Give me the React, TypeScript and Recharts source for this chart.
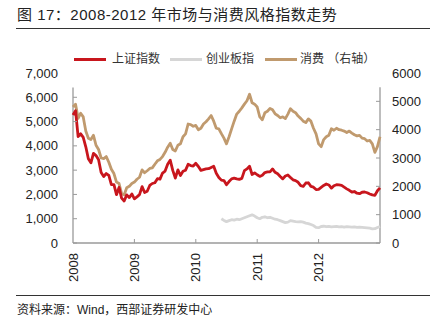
import { Line, LineChart, ReferenceLine, XAxis, YAxis } from 'recharts'

const START_YEAR = 2008
const STEPS_PER_YEAR = 24

const yearTicks = [2008, 2009, 2010, 2011, 2012]
const leftTicks = [0, 1000, 2000, 3000, 4000, 5000, 6000, 7000]
const rightTicks = [0, 1000, 2000, 3000, 4000, 5000, 6000]

// 上证指数, half-monthly closes 2008-01 .. 2012-12
const sseValues = [
  5270, 5450, 4380, 4500, 4350, 3960, 3470, 3300, 3690, 3600, 3430, 2900,
  2740, 2860, 2780, 2400, 2400, 1990, 2290, 1850, 1730, 1980, 1870, 2020,
  1820, 1900, 1990, 2320, 2080, 2130, 2370, 2450, 2480, 2650, 2630, 2880,
  2960, 3240, 3410, 2990, 2670, 3010, 2780, 2950, 3000, 3240, 3190, 3170,
  3280, 3150, 2990, 3020, 3050, 3060, 3110, 3160, 2870, 2700, 2590, 2570,
  2400, 2530, 2640, 2670, 2640, 2620, 2660, 2980, 3050, 3160, 2820, 2890,
  2810, 2740, 2790, 2900, 2930, 2930, 3050, 2910, 2850, 2740, 2640, 2760,
  2800, 2700, 2600, 2570, 2500, 2360, 2330, 2470, 2480, 2330, 2300, 2200,
  2210, 2290, 2370, 2430, 2390, 2260, 2360, 2400, 2390, 2370, 2300, 2230,
  2170, 2100, 2120, 2050, 2030, 2090, 2100, 2070, 2020, 1980, 1960, 2150,
  2270,
]

// 消费 (right axis)
const consumerValues = [
  4800, 4900, 4400, 4580, 4450, 3950, 3700, 3650, 3800, 3450, 3300, 3000,
  2980, 3050, 2850, 2600, 2450, 2150, 2100, 1750, 1700, 1950, 2000, 2100,
  2150, 2250, 2320, 2580, 2480, 2550, 2630, 2650, 2780, 2900, 2950, 3050,
  3200, 3380, 3520, 3300, 3250, 3450, 3500, 3750, 3850, 4200, 4180, 4120,
  4150, 4000, 4050, 4200, 4280, 4380, 4500, 4300, 4050, 4030, 3860, 3700,
  3500, 3750, 4030, 4300, 4550, 4650, 4770, 4900, 5020, 5250, 4950, 4900,
  4800, 4450, 4350, 4600, 4650, 4750, 4700, 4560, 4500, 4420, 4450, 4390,
  4550, 4740, 4650, 4600, 4480, 4400, 4300, 4250, 4380, 4300, 4050, 3850,
  3500, 3400, 3650, 3750, 3800, 4030, 3980, 4050, 4000, 3980, 3950, 3900,
  3950, 3880, 3820, 3780, 3800, 3700, 3680, 3600, 3620, 3500, 3200, 3400,
  3750,
]

// 创业板指, starts June 2010
const chinextStartStep = 58
const chinextValues = [
  1000, 930, 880, 920, 960, 940, 980, 960, 1000, 1040, 1080, 1120, 1160, 1110,
  1040, 1000, 1060, 1080, 1040, 1060, 1020, 980, 960, 920, 880, 840, 860, 920,
  900, 880, 870, 880, 860, 820, 800, 760, 720, 640, 630, 680, 690, 670, 680,
  660, 670, 680, 660, 670, 650, 670, 660, 650, 660, 640, 650, 640, 630, 620,
  610, 580, 590, 640, 680,
]

const data = sseValues.map((sse, i) => ({
  t: START_YEAR + i / STEPS_PER_YEAR,
  sse,
  consumer: consumerValues[i],
  chinext: i >= chinextStartStep ? chinextValues[i - chinextStartStep] : null,
}))

const RED = '#C8161D'
const GRAY = '#D6D6D6'
const TAN = '#C09A6E'
const AXIS = '#9a9a9a'
const FONT = '"Liberation Sans", Arial, "Noto Sans CJK SC", sans-serif'

const legendItems = [
  { label: '上证指数', color: RED, lineLeft: 74, textLeft: 112 },
  { label: '创业板指', color: GRAY, lineLeft: 170, textLeft: 206 },
  { label: '消费 （右轴）', color: TAN, lineLeft: 265, textLeft: 300 },
]

function LeftTick({ x, y, payload }: any) {
  return (
    <g>
      {payload.value < 7000 ? <line x1={x} x2={x + 4} y1={y} y2={y} stroke={AXIS} /> : null}
      <text x={x - 15} y={y} dy="0.35em" textAnchor="end" fontSize={13} fill="#222" fontFamily={FONT}>
        {payload.value.toLocaleString('en-US')}
      </text>
    </g>
  )
}

function RightTick({ x, y, payload }: any) {
  return (
    <g>
      {payload.value < 6000 ? <line x1={x - 4} x2={x} y1={y} y2={y} stroke={AXIS} /> : null}
      <text x={x + 12} y={y} dy="0.35em" textAnchor="start" fontSize={13} fill="#222" fontFamily={FONT}>
        {payload.value}
      </text>
    </g>
  )
}

function YearTick({ x, y, payload }: any) {
  const ty = y + 10
  return (
    <g>
      {payload.value > START_YEAR ? <line x1={x} x2={x} y1={y} y2={y - 4} stroke={AXIS} /> : null}
      <text
        x={x}
        y={ty}
        dy="0.35em"
        textAnchor="end"
        fontSize={13}
        fill="#222"
        fontFamily={FONT}
        transform={`rotate(-90, ${x}, ${ty})`}
      >
        {payload.value}
      </text>
    </g>
  )
}

export default function App() {
  return (
    <div style={{ position: 'relative', width: 438, height: 331, background: '#fff', fontFamily: FONT, color: '#222' }}>
      <style>{'body{margin:0}'}</style>
      <div
        style={{
          position: 'absolute',
          left: 17,
          top: 5,
          fontSize: 15,
          lineHeight: '20px',
          letterSpacing: 0.5,
          whiteSpace: 'nowrap',
        }}
      >
        图 17：2008-2012 年市场与消费风格指数走势
      </div>
      <div style={{ position: 'absolute', left: 16, top: 28, width: 414, height: 1, background: '#333' }} />

      {legendItems.map((item) => (
        <div key={item.label}>
          <div
            style={{
              position: 'absolute',
              left: item.lineLeft,
              top: 58,
              width: 32,
              height: 3,
              background: item.color,
            }}
          />
          <div
            style={{
              position: 'absolute',
              left: item.textLeft,
              top: 51,
              fontSize: 12,
              lineHeight: '16px',
              whiteSpace: 'nowrap',
              color: '#333',
            }}
          >
            {item.label}
          </div>
        </div>
      ))}

      <div style={{ position: 'absolute', left: 0, top: 0 }}>
        <LineChart width={438} height={300} data={data} margin={{ top: 73, right: 0, bottom: 12, left: 0 }}>
          <XAxis
            dataKey="t"
            type="number"
            domain={[2008, 2013]}
            ticks={yearTicks}
            interval={0}
            height={45}
            tickSize={0}
            tickMargin={0}
            tickLine={false}
            stroke={AXIS}
            strokeWidth={1.3}
            tick={<YearTick />}
          />
          <YAxis
            yAxisId="left"
            domain={[0, 7000]}
            ticks={leftTicks}
            interval={0}
            width={73}
            tickSize={0}
            tickMargin={0}
            tickLine={false}
            axisLine={false}
            tick={<LeftTick />}
          />
          <YAxis
            yAxisId="right"
            orientation="right"
            domain={[0, 6000]}
            ticks={rightTicks}
            interval={0}
            width={58}
            tickSize={0}
            tickMargin={0}
            tickLine={false}
            axisLine={false}
            tick={<RightTick />}
          />
          <ReferenceLine
            yAxisId="left"
            segment={[{ x: 2008, y: 0 }, { x: 2008, y: 6400 }]}
            stroke={AXIS}
            strokeWidth={1.3}
          />
          <ReferenceLine
            yAxisId="right"
            segment={[{ x: 2013, y: 0 }, { x: 2013, y: 5500 }]}
            stroke={AXIS}
            strokeWidth={1.3}
          />
          <Line
            yAxisId="right"
            dataKey="consumer"
            type="linear"
            stroke={TAN}
            strokeWidth={2.8}
            strokeLinejoin="round"
            dot={false}
            isAnimationActive={false}
          />
          <Line
            yAxisId="left"
            dataKey="chinext"
            type="linear"
            stroke={GRAY}
            strokeWidth={2.8}
            strokeLinejoin="round"
            dot={false}
            connectNulls={false}
            isAnimationActive={false}
          />
          <Line
            yAxisId="left"
            dataKey="sse"
            type="linear"
            stroke={RED}
            strokeWidth={2.8}
            strokeLinejoin="round"
            dot={false}
            isAnimationActive={false}
          />
        </LineChart>
      </div>

      <div style={{ position: 'absolute', left: 16, top: 295, width: 414, height: 1, background: '#333' }} />
      <div style={{ position: 'absolute', left: 17, top: 302, fontSize: 12, lineHeight: '16px', whiteSpace: 'nowrap' }}>
        资料来源：Wind，西部证券研发中心
      </div>
    </div>
  )
}
